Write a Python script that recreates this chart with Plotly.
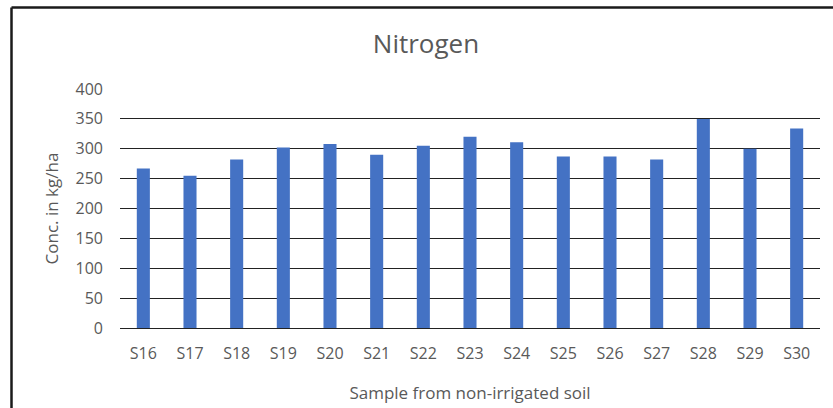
import plotly.graph_objects as go

categories = ["S16", "S17", "S18", "S19", "S20", "S21", "S22", "S23",
              "S24", "S25", "S26", "S27", "S28", "S29", "S30"]
nitrogen = [267, 255, 282, 302, 308, 290, 305, 320, 311, 287, 287, 282, 350, 300, 334]
y_ticks = [0, 50, 100, 150, 200, 250, 300, 350, 400]

W, H = 833, 408
L, R, T, B = 120, 13, 89, 80
pw, ph = W - L - R, H - T - B

def px_x(x):
    return (x - L) / pw

def px_y(y):
    return (H - B - y) / ph

font_family = "Open Sans"
grey = "#595959"

fig = go.Figure(go.Bar(
    x=categories, y=nitrogen,
    marker=dict(color="#4472C4", line=dict(width=0)),
    width=0.28,
))

fig.update_layout(
    width=W, height=H,
    margin=dict(l=L, r=R, t=T, b=B, autoexpand=False),
    paper_bgcolor="white", plot_bgcolor="white",
    showlegend=False,
    font=dict(family=font_family, color=grey),
    title=dict(text="Nitrogen", x=(426) / W, xanchor="center",
               y=1 - 44 / H, yanchor="middle", yref="container",
               font=dict(size=26, color=grey, family=font_family)),
    xaxis=dict(
        showgrid=False, showline=True, linecolor="#222222", linewidth=1.3,
        ticks="", tickfont=dict(size=16, color=grey), ticklabelstandoff=11,
        title=dict(text="Sample from non-irrigated soil", standoff=23,
                   font=dict(size=17, color=grey)),
        zeroline=False,
    ),
    yaxis=dict(
        range=[0, 400], tickvals=y_ticks, showgrid=True, gridcolor="#222222",
        gridwidth=1.3, zeroline=False, showline=False, ticks="",
        tickfont=dict(size=16, color=grey), ticklabelstandoff=16,
        title=dict(text="Conc. in kg/ha", standoff=12,
                   font=dict(size=17, color=grey)),
    ),
    shapes=[
        dict(type="line", xref="paper", yref="paper",
             x0=px_x(11.5), x1=px_x(W + 60), y0=px_y(7.5), y1=px_y(7.5),
             line=dict(color="#1a1a1a", width=2.5)),
        dict(type="line", xref="paper", yref="paper",
             x0=px_x(11.5), x1=px_x(11.5), y0=px_y(7.5), y1=px_y(H + 60),
             line=dict(color="#1a1a1a", width=2.5)),
    ],
)

fig.write_html("out.html")
